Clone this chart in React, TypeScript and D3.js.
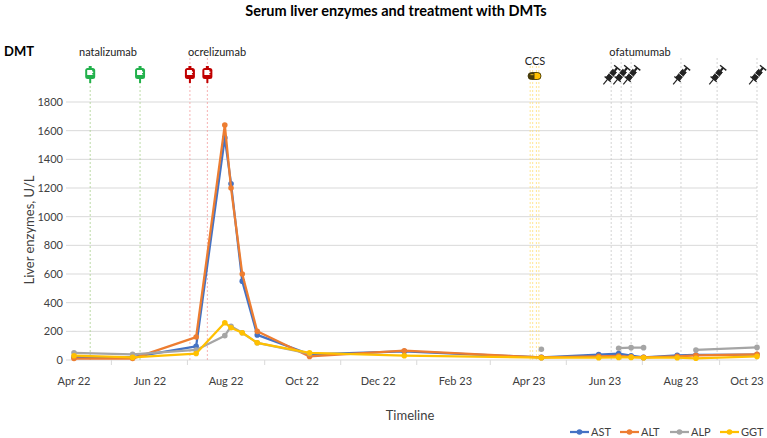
import React from 'react'
import * as d3 from 'd3'

// sampling dates and lab values (U/L), null = not measured
const sampleDates = [
  '2022-04-01', '2022-05-18', '2022-07-08', '2022-07-31', '2022-08-05', '2022-08-14',
  '2022-08-26', '2022-10-07', '2022-12-22', '2023-04-11', '2023-05-27', '2023-06-12',
  '2023-06-22', '2023-07-02', '2023-07-29', '2023-08-13', '2023-10-01',
]
const astValues = [20, 20, 95, 1550, 1230, 550, 175, 40, 60, 18, 38, 45, 30, 18, 33, 35, 38]
const altValues = [10, 10, 160, 1640, 1200, 600, 200, 25, 65, 18, 25, 28, 22, 18, 25, 32, 40]
const alpValues = [50, 40, 70, 170, 235, 190, 120, 45, null, 75, null, 82, 86, 86, null, 70, 88]
const ggtValues = [30, 18, 45, 260, 225, 190, 120, 50, 30, 16, 16, 18, 18, 16, 16, 12, 25]

const natalizumabDates = ['2022-04-14', '2022-05-24']
const ocrelizumabDates = ['2022-07-03', '2022-07-17']
const ccsDates = ['2023-04-02', '2023-04-04', '2023-04-07', '2023-04-09']
const ofatumumabDates = ['2023-06-06', '2023-06-14', '2023-06-22', '2023-08-01', '2023-08-30', '2023-10-01']

const monthLabels = ['2022-04-01', '2022-06-01', '2022-08-01', '2022-10-01', '2022-12-01', '2023-02-01', '2023-04-01', '2023-06-01', '2023-08-01', '2023-10-01']
const minorTicks = ['2022-05-01', '2022-07-01', '2022-09-01', '2022-11-01', '2023-01-01', '2023-03-01', '2023-05-01', '2023-07-01', '2023-09-01']
const yTicks = [0, 200, 400, 600, 800, 1000, 1200, 1400, 1600, 1800]

const seriesNames = ['AST', 'ALT', 'ALP', 'GGT']
const seriesColors = ['#4472C4', '#ED7D31', '#A5A5A5', '#FFC000']
const seriesValues = [astValues, altValues, alpValues, ggtValues]

const W = 767
const H = 438
const FONT = 'Lato, "Open Sans", sans-serif'
const parse = d3.timeParse('%Y-%m-%d')
const fmt = d3.timeFormat('%b %y')

const x = d3.scaleTime().domain([parse('2022-04-01')!, parse('2023-10-01')!]).range([74, 757])
const y = d3.scaleLinear().domain([0, 1800]).range([360, 102])
const plotLeft = 66
const plotRight = 757
const iconY = 74

const IVBag = ({ cx, color }: { cx: number; color: string }) => (
  <g transform={`translate(${cx},${iconY})`}>
    <rect x={-1.5} y={-8} width={3} height={3} fill={color} />
    <rect x={-5} y={-6} width={10} height={11} rx={2.5} fill={color} />
    <path d="M-3,-4 L2,-4 L2,-2.5 L3,-2.5 L3,-1 L2,-1 L2,0.5 L3,0.5 L3,1 L-3,1 Z" fill="#fff" />
    <rect x={-1} y={5} width={2} height={4} fill={color} />
  </g>
)

const Syringe = ({ cx }: { cx: number }) => (
  <g transform={`translate(${cx},${iconY + 1}) rotate(-50) scale(1.35)`} fill="#222" stroke="#222">
    <line x1={-9} y1={0} x2={-4} y2={0} strokeWidth={0.9} />
    <rect x={-4} y={-1.8} width={8} height={3.6} strokeWidth={0.6} />
    <line x1={0} y1={-1.8} x2={0} y2={1.8} stroke="#fff" strokeWidth={0.6} />
    <line x1={4} y1={0} x2={7} y2={0} strokeWidth={1.6} />
    <line x1={7} y1={-3} x2={7} y2={3} strokeWidth={1} />
    <line x1={-4} y1={-3} x2={-4} y2={3} strokeWidth={1} />
  </g>
)

const Pill = ({ cx }: { cx: number }) => (
  <g transform={`translate(${cx},${iconY + 2})`}>
    <rect x={-6.5} y={-3.5} width={13} height={7} rx={3.5} fill="#4a3c08" />
    <path d="M0,-3.5 L3,-3.5 A3.5,3.5 0 0 1 3,3.5 L0,3.5 Z" fill="#FFC000" />
    <rect x={-4} y={-2} width={3} height={1.2} fill="#c9a21a" />
    <rect x={-6.5} y={-3.5} width={13} height={7} rx={3.5} fill="none" stroke="#3a3000" strokeWidth={0.8} />
  </g>
)

export default function App() {
  const dates = sampleDates.map(d => parse(d)!)

  const line = d3
    .line<number | null>()
    .defined(v => v != null)
    .x((_, i) => x(dates[i]))
    .y(v => y(v as number))

  const vlines = (list: string[], color: string, top: number) =>
    list.map(d => (
      <line
        key={d + color}
        x1={x(parse(d)!)}
        x2={x(parse(d)!)}
        y1={top}
        y2={360}
        stroke={color}
        strokeWidth={0.8}
        strokeDasharray="2,2"
      />
    ))

  return (
    <svg width={W} height={H} style={{ position: 'absolute', left: 0, top: 0, background: '#fff' }} fontFamily={FONT}>
      <text x={396} y={16} textAnchor="middle" fontSize={14.5} fontWeight="bold" fill="#000">
        Serum liver enzymes and treatment with DMTs
      </text>

      {/* gridlines */}
      {yTicks.map(t => (
        <line key={t} x1={plotLeft} x2={plotRight} y1={y(t)} y2={y(t)} stroke="#d9d9d9" strokeWidth={1} />
      ))}
      {minorTicks.map(d => (
        <line key={d} x1={x(parse(d)!)} x2={x(parse(d)!)} y1={360} y2={365} stroke="#d9d9d9" />
      ))}
      {yTicks.map(t => (
        <text key={t} x={63} y={y(t)} dy="0.35em" textAnchor="end" fontSize={11} fill="#404040">
          {t}
        </text>
      ))}
      {monthLabels.map(d => {
        const px = Math.min(x(parse(d)!), W - 20)
        return (
          <text key={d} x={px} y={385} textAnchor="middle" fontSize={11} fill="#404040">
            {fmt(parse(d)!)}
          </text>
        )
      })}

      {/* treatment markers */}
      {vlines(natalizumabDates, '#a9d18e', 66)}
      {vlines(ocrelizumabDates, '#f4a0a0', 58)}
      {vlines(ccsDates, '#ffe07a', 66)}
      {vlines(ofatumumabDates, '#c8c8c8', 58)}

      <text x={4} y={56} fontSize={13} fontWeight="bold" fill="#000">DMT</text>
      <text x={108} y={56} textAnchor="middle" fontSize={11} fill="#222">natalizumab</text>
      <text x={217} y={56} textAnchor="middle" fontSize={11} fill="#222">ocrelizumab</text>
      <text x={535} y={65} textAnchor="middle" fontSize={11} fill="#222">CCS</text>
      <text x={640} y={56} textAnchor="middle" fontSize={11} fill="#222">ofatumumab</text>

      {natalizumabDates.map(d => <IVBag key={d} cx={x(parse(d)!)} color="#22b14c" />)}
      {ocrelizumabDates.map(d => <IVBag key={d} cx={x(parse(d)!)} color="#c00000" />)}
      <Pill cx={d3.mean(ccsDates, d => x(parse(d)!))!} />
      {ofatumumabDates.map(d => <Syringe key={d} cx={x(parse(d)!)} />)}

      {/* series */}
      {seriesValues.map((vals, s) => (
        <g key={seriesNames[s]}>
          <path d={line(vals) ?? ''} fill="none" stroke={seriesColors[s]} strokeWidth={2.25} strokeLinejoin="round" />
          {vals.map((v, i) =>
            v == null ? null : <circle key={i} cx={x(dates[i])} cy={y(v)} r={2.8} fill={seriesColors[s]} />,
          )}
        </g>
      ))}

      <text transform={`translate(34,230) rotate(-90)`} textAnchor="middle" fontSize={13} fill="#404040">
        Liver enzymes, U/L
      </text>
      <text x={410} y={420} textAnchor="middle" fontSize={13} fill="#404040">Timeline</text>

      {/* legend */}
      {seriesNames.map((n, i) => {
        const lx = 570 + i * 50
        return (
          <g key={n}>
            <line x1={lx} x2={lx + 19} y1={432} y2={432} stroke={seriesColors[i]} strokeWidth={2.25} />
            <circle cx={lx + 9.5} cy={432} r={2.8} fill={seriesColors[i]} />
            <text x={lx + 21} y={432} dy="0.35em" fontSize={11} fill="#404040">{n}</text>
          </g>
        )
      })}
    </svg>
  )
}
